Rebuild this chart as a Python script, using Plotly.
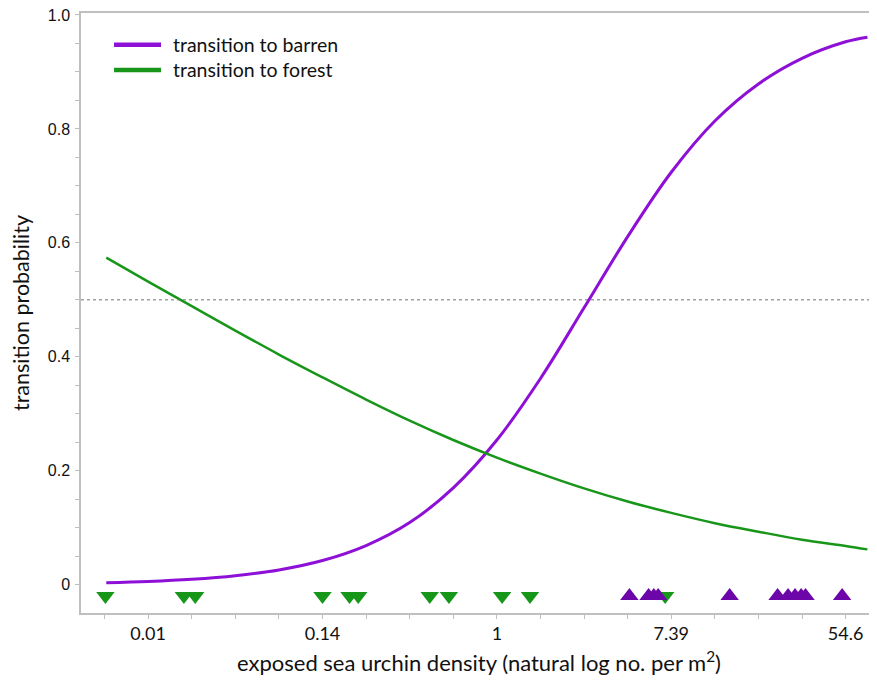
import plotly.graph_objects as go

# curve sample points (x in natural-log units of density)
curve_x = [-4.48, -4.0, -3.5, -3.0, -2.5, -2.0, -1.5, -1.0, -0.5, 0.0, 0.5, 1.0,
           1.5, 2.0, 2.5, 3.0, 3.5, 4.0, 4.25]
barren_p = [0.0035, 0.0057, 0.0095, 0.0157, 0.0259, 0.0424, 0.0687, 0.109, 0.170,
            0.254, 0.362, 0.486, 0.611, 0.724, 0.814, 0.879, 0.924, 0.953, 0.961]
forest_p = [0.574, 0.532, 0.489, 0.446, 0.404, 0.364, 0.325, 0.288, 0.254, 0.223,
            0.195, 0.169, 0.146, 0.126, 0.108, 0.093, 0.079, 0.068, 0.062]

# observed transitions (rug markers)
forest_obs_x = [-4.49, -3.59, -3.46, -2.00, -1.69, -1.59, -0.77, -0.55, 0.06, 0.38, 1.93]
barren_obs_x = [1.52, 1.74, 1.80, 1.85, 2.67, 3.22, 3.34, 3.42, 3.49, 3.54, 3.96]
obs_y = -0.02

# axis ticks
x_tickvals = [-4, -2, 0, 2, 4]
x_ticktext = ["0.01", "0.14", "1", "7.39", "54.6"]
y_tickvals = [0, 0.2, 0.4, 0.6, 0.8, 1.0]
y_ticktext = ["0", "0.2", "0.4", "0.6", "0.8", "1.0"]
threshold = 0.5

series_names = ["transition to barren", "transition to forest"]

PURPLE_LINE = "#8E10D6"
PURPLE_MARK = "#6C06A8"
GREEN = "#18961A"

fig = go.Figure()
fig.add_trace(go.Scatter(x=curve_x, y=barren_p, mode="lines", line_shape="spline",
                         line=dict(color=PURPLE_LINE, width=3),
                         name=series_names[0], showlegend=False))
fig.add_trace(go.Scatter(x=curve_x, y=forest_p, mode="lines", line_shape="spline",
                         line=dict(color=GREEN, width=2.5),
                         name=series_names[1], showlegend=False))
fig.add_trace(go.Scatter(x=forest_obs_x, y=[obs_y] * len(forest_obs_x), mode="markers",
                         marker=dict(symbol="triangle-down", size=16, color=GREEN),
                         showlegend=False, name="forest obs"))
fig.add_trace(go.Scatter(x=barren_obs_x, y=[obs_y] * len(barren_obs_x), mode="markers",
                         marker=dict(symbol="triangle-up", size=16, color=PURPLE_MARK),
                         showlegend=False, name="barren obs"))

fig.add_hline(y=threshold, line=dict(color="#707070", width=1, dash="dot"))

# custom legend (paper coordinates) with long, thick line samples
legend_rows = [0.947, 0.905]
legend_cols = [PURPLE_LINE, GREEN]
for name, col, yy in zip(series_names, legend_cols, legend_rows):
    fig.add_shape(type="line", xref="paper", yref="paper", x0=0.0415, x1=0.1005,
                  y0=yy, y1=yy, line=dict(color=col, width=4.5))
    fig.add_annotation(xref="paper", yref="paper", x=0.113, y=yy, text=name,
                       showarrow=False, xanchor="left", yanchor="middle",
                       font=dict(size=19.5, family="Lato, sans-serif", color="#111"))

axis_col = "#BFBFBF"
# page body has an 8px margin, so the figure is shrunk and offset to compensate
fig.update_layout(
    width=869, height=672,
    margin=dict(l=73, r=0, t=5, b=67),
    paper_bgcolor="white", plot_bgcolor="white",
    font=dict(family="Lato, 'Open Sans', sans-serif", color="#111"),
    showlegend=False,
    xaxis=dict(range=[-4.77, 4.36], showgrid=False, zeroline=False, automargin=False,
               showline=True, linecolor=axis_col, linewidth=1.5, mirror=True,
               tickmode="array", tickvals=x_tickvals, ticktext=x_ticktext,
               ticks="outside", ticklen=4, tickcolor=axis_col,
               minor=dict(dtick=0.5, tick0=0, ticks="outside", ticklen=4, tickcolor=axis_col),
               tickfont=dict(size=18, family="Lato, sans-serif", color="#111"),
               title=dict(text="exposed sea urchin density (natural log no. per m<sup>2</sup>)",
                          font=dict(size=22, family="Lato, sans-serif", color="#111"),
                          standoff=12)),
    yaxis=dict(range=[-0.0497, 1.0035], showgrid=False, zeroline=False, automargin=False,
               showline=True, linecolor=axis_col, linewidth=1.5,
               tickmode="array", tickvals=y_tickvals, ticktext=y_ticktext,
               ticks="outside", ticklen=4, tickcolor=axis_col, ticklabelstandoff=2,
               ticklabeloverflow="allow",
               minor=dict(dtick=0.05, tick0=0, ticks="outside", ticklen=4, tickcolor=axis_col),
               tickfont=dict(size=16, family="Liberation Sans, Arial, sans-serif", color="#111"),
               title=dict(text="transition probability",
                          font=dict(size=21.5, family="Lato, sans-serif", color="#111"),
                          standoff=14)),
)

fig.write_html("out.html")
